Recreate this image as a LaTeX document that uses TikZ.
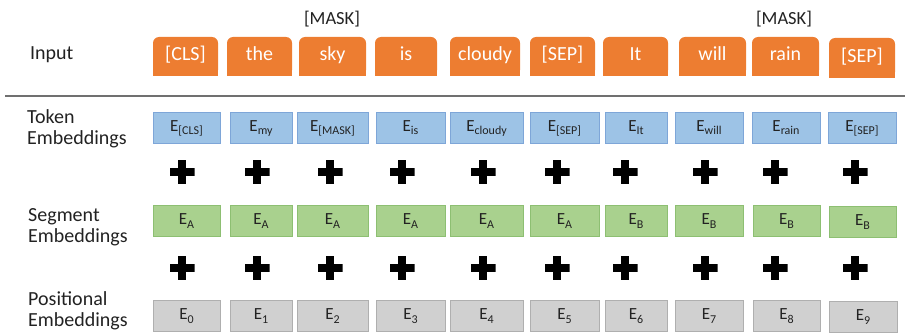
\documentclass[tikz,border=0pt]{standalone}
\usepackage{fontspec}
\setmainfont{Carlito}
\usetikzlibrary{backgrounds}
\definecolor{orangeF}{HTML}{ED7D31}
\definecolor{blueF}{HTML}{9DC3E6}
\definecolor{blueD}{HTML}{7EA6D8}
\definecolor{greenF}{HTML}{A9D18E}
\definecolor{greenD}{HTML}{8DBF72}
\definecolor{grayF}{HTML}{D0D0D0}
\definecolor{grayD}{HTML}{AFAFAF}
\definecolor{txt}{HTML}{222222}
\definecolor{rule}{HTML}{707070}
\newcommand\Esub[1]{E\raisebox{-3.5pt}{\fontsize{12}{12}\selectfont #1}}
\tikzset{
  lbl/.style={anchor=west, align=left, inner sep=0pt, text=txt,
    font=\fontsize{20}{21.5}\selectfont},
  mask/.style={anchor=base, inner sep=0pt, text=txt,
    font=\fontsize{18.5}{20}\selectfont},
  inbox/.style={fill=orangeF, rounded corners=6pt, inner sep=0pt, text=white,
    font=\fontsize{20}{21}\selectfont, text height=14pt, text depth=5pt},
  ebox/.style={inner sep=0pt, line width=0.8pt, text=txt,
    font=\fontsize{17}{18}\selectfont, text height=11pt, text depth=3.5pt},
  tokbox/.style={ebox, fill=blueF, draw=blueD},
  segbox/.style={ebox, fill=greenF, draw=greenD},
  posbox/.style={ebox, fill=grayF, draw=grayD},
  plus/.style={minimum width=25pt, minimum height=24pt, inner sep=0pt,
    path picture={
      \fill[black] ([yshift=-3.8pt]path picture bounding box.west) rectangle ([yshift=3.8pt]path picture bounding box.east);
      \fill[black] ([xshift=-3.8pt]path picture bounding box.north) rectangle ([xshift=3.8pt]path picture bounding box.south);
    }},
}
\begin{document}
\begin{tikzpicture}[x=1pt, y=-1pt]
\useasboundingbox (0,0) rectangle (910,334);

% labels
\node[lbl, anchor=base west] (linput) at (30,60) {Input};
\node[lbl] (ltok) at (27,129) {Token\\Embeddings};
\node[lbl] (lseg) at (28,227) {Segment\\Embeddings};
\node[lbl] (lpos) at (28,311) {Positional\\Embeddings};

% separator
\coordinate (ruleA) at (5,96);
\coordinate (ruleB) at (905,96);
\draw[rule, line width=2.6pt] (ruleA) -- (ruleB);

% input tokens
\foreach \l/\r/\t/\b/\bb [count=\i] in {153/218/{[CLS]}/37/76, 227/292/the/37/76, 299/366/sky/37/76,
  375/437/is/37/76, 450/520/cloudy/37/76, 530/595/{[SEP]}/37/76, 603/668/It/37/76,
  679/746/will/37/76, 752/819/rain/37/76, 829/895/{[SEP]}/38/78}{
  \pgfmathsetmacro\w{\r-\l}
  \pgfmathsetmacro\h{\bb-\b}
  \pgfmathsetmacro\cx{(\l+\r)/2}
  \pgfmathsetmacro\cy{(\b+\bb)/2}
  \node[inbox, minimum width=\w pt, minimum height=\h pt] (in\i) at (\cx,\cy) {\t};
  \begin{pgfonlayer}{background}
    \fill[orangeF] (in\i.west) rectangle (in\i.south east);
  \end{pgfonlayer}
}
\node[mask] (m1) at (332,25) {[MASK]};
\node[mask] (m2) at (784,25) {[MASK]};

% token embeddings
\foreach \l/\r/\t [count=\i] in {153/220/{[CLS]}, 230/292/my, 297/368/{[MASK]}, 376/445/is,
  450/523/cloudy, 530/599/{[SEP]}, 605/667/It, 675/743/will, 752/820/rain, 828/896/{[SEP]}}{
  \pgfmathsetmacro\w{\r-\l}
  \pgfmathsetmacro\cx{(\l+\r)/2}
  \node[tokbox, minimum width=\w pt, minimum height=31pt] (tok\i) at (\cx,127.5) {\Esub{\t}};
}

% segment embeddings
\foreach \l/\r/\t/\cy [count=\i] in {153/220/A/221, 230/292/A/221, 297/368/A/221, 376/445/A/221,
  450/523/A/221, 530/599/A/221, 605/667/B/221, 675/743/B/221, 753/820/B/221, 829/896/B/222}{
  \pgfmathsetmacro\w{\r-\l}
  \pgfmathsetmacro\cx{(\l+\r)/2}
  \node[segbox, minimum width=\w pt, minimum height=31pt] (seg\i) at (\cx,\cy) {\Esub{\t}};
}

% positional embeddings
\foreach \l/\r/\t/\cy [count=\i] in {153/220/0/316, 230/292/1/316, 297/368/2/316, 376/445/3/316,
  450/523/4/316, 530/599/5/316, 605/667/6/316, 675/743/7/316, 753/820/8/316, 829/897/9/317}{
  \pgfmathsetmacro\w{\r-\l}
  \pgfmathsetmacro\cx{(\l+\r)/2}
  \node[posbox, minimum width=\w pt, minimum height=31pt] (pos\i) at (\cx,\cy) {\Esub{\t}};
}

% plus signs
\foreach \x [count=\i] in {182,257,330,402,483,557,625,705,775,855}{
  \node[plus] (pa\i) at (\x,172) {};
  \node[plus] (pb\i) at (\x,268) {};
}
\end{tikzpicture}
\end{document}
